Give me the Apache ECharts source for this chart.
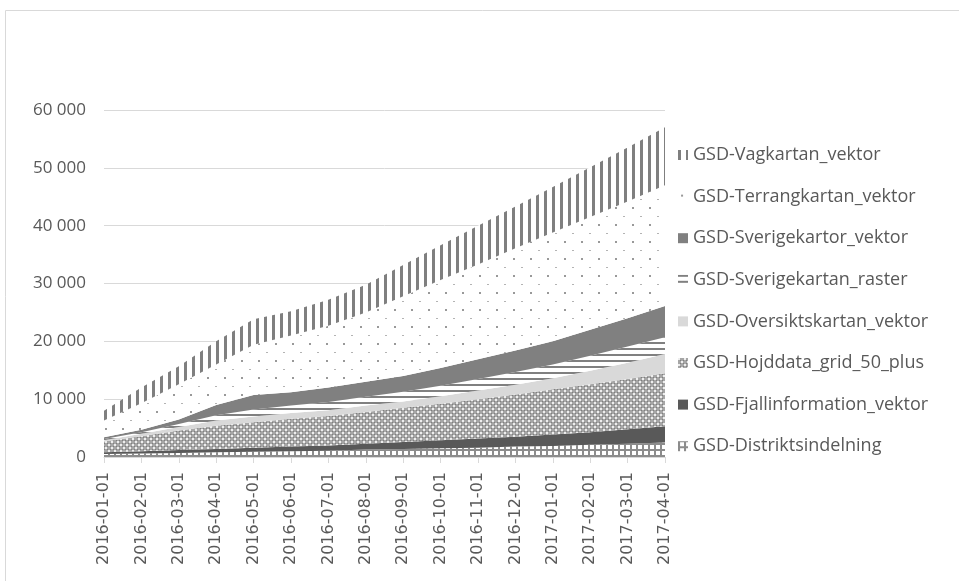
<!DOCTYPE html>
<html>
<head>
<meta charset="utf-8">
<script src="https://cdn.jsdelivr.net/npm/echarts@6/dist/echarts.min.js"></script>
<style>
	html, body { margin: 0; padding: 0; background: #fff; }
	#main { width: 959px; height: 581px; }
</style>
</head>
<body>
<div id="main"></div>
<script>
// 月份
const months = ['2016-01-01', '2016-02-01', '2016-03-01', '2016-04-01', '2016-05-01', '2016-06-01',
	'2016-07-01', '2016-08-01', '2016-09-01', '2016-10-01', '2016-11-01', '2016-12-01',
	'2017-01-01', '2017-02-01', '2017-03-01', '2017-04-01'];

// 各系列数据 (由下至上堆叠)
const distrikt = [500, 600, 700, 800, 900, 1000, 1100, 1300, 1400, 1500, 1600, 1800, 1900, 2100, 2300, 2500];
const fjall = [300, 400, 500, 600, 700, 800, 900, 1000, 1200, 1400, 1600, 1700, 2000, 2200, 2500, 2800];
const hojddata = [1900, 2600, 3400, 4000, 4400, 4800, 5100, 5500, 5900, 6300, 6800, 7300, 7800, 8300, 8700, 9200];
const oversikt = [200, 400, 600, 900, 1000, 1000, 1000, 1100, 1100, 1300, 1500, 1700, 1900, 2300, 2800, 3300];
const raster = [200, 300, 500, 900, 1200, 1300, 1400, 1500, 1700, 1800, 2000, 2200, 2400, 2600, 2800, 2900];
const sverigekartor = [300, 400, 800, 1800, 2500, 2300, 2500, 2600, 2700, 3100, 3400, 3700, 4000, 4500, 4900, 5400];
const terrang = [2900, 4600, 6100, 7000, 8700, 9800, 10700, 12000, 13800, 15200, 16400, 17700, 18800, 19500, 20200, 20900];
const vagkartan = [1700, 2700, 3100, 4000, 4400, 4200, 4500, 4800, 5400, 6000, 6700, 7200, 7900, 8600, 9300, 10000];

const yTicks = [0, 10000, 20000, 30000, 40000, 50000, 60000];

// 生成填充图案
function makePattern(w, h, draw) {
	const c = document.createElement('canvas');
	c.width = w;
	c.height = h;
	const ctx = c.getContext('2d');
	draw(ctx);
	return { image: c, repeat: 'repeat' };
}

const patterns = {
	distrikt: makePattern(6, 6, ctx => {
		ctx.fillStyle = '#8c8c8c';
		ctx.fillRect(0, 0, 6, 6);
		ctx.fillStyle = '#ffffff';
		ctx.fillRect(2, 1, 4, 4);
	}),
	fjall: '#595959',
	hojddata: makePattern(6, 6, ctx => {
		ctx.fillStyle = '#a6a6a6';
		ctx.fillRect(0, 0, 6, 6);
		ctx.fillStyle = '#eeeeee';
		ctx.fillRect(0, 0, 2, 2);
		ctx.fillRect(3, 3, 2, 2);
		ctx.fillStyle = '#7f7f7f';
		ctx.fillRect(2, 2, 1, 1);
		ctx.fillRect(5, 5, 1, 1);
		ctx.fillRect(5, 2, 1, 1);
		ctx.fillRect(2, 5, 1, 1);
	}),
	oversikt: '#d9d9d9',
	raster: makePattern(8, 6, ctx => {
		ctx.fillStyle = '#ffffff';
		ctx.fillRect(0, 0, 8, 6);
		ctx.fillStyle = '#808080';
		ctx.fillRect(0, 0, 8, 2);
	}),
	sverigekartor: '#808080',
	terrang: makePattern(17, 17, ctx => {
		ctx.fillStyle = '#ffffff';
		ctx.fillRect(0, 0, 17, 17);
		ctx.fillStyle = '#999999';
		ctx.fillRect(3, 3, 2, 2);
		ctx.fillStyle = '#b3b3b3';
		ctx.fillRect(11, 12, 2, 1);
	}),
	vagkartan: makePattern(8, 4, ctx => {
		ctx.fillStyle = '#ffffff';
		ctx.fillRect(0, 0, 8, 4);
		ctx.fillStyle = '#7f7f7f';
		ctx.fillRect(0, 0, 3, 4);
	})
};

const seriesDefs = [
	['GSD-Distriktsindelning', distrikt, patterns.distrikt],
	['GSD-Fjallinformation_vektor', fjall, patterns.fjall],
	['GSD-Hojddata_grid_50_plus', hojddata, patterns.hojddata],
	['GSD-Oversiktskartan_vektor', oversikt, patterns.oversikt],
	['GSD-Sverigekartan_raster', raster, patterns.raster],
	['GSD-Sverigekartor_vektor', sverigekartor, patterns.sverigekartor],
	['GSD-Terrangkartan_vektor', terrang, patterns.terrang],
	['GSD-Vagkartan_vektor', vagkartan, patterns.vagkartan]
];

const chart = echarts.init(document.getElementById('main'));

chart.setOption({
	animation: false,
	graphic: [{
		type: 'rect',
		silent: true,
		shape: { x: 5.5, y: 10.5, width: 1200, height: 1000 },
		style: { fill: 'none', stroke: '#d9d9d9', lineWidth: 1 }
	}],
	grid: { left: 104, right: 294, top: 110, bottom: 124 },
	legend: {
		orient: 'vertical',
		left: 673,
		top: 140,
		itemWidth: 10,
		itemHeight: 10,
		itemGap: 21.6,
		selectedMode: false,
		textStyle: { fontFamily: 'Open Sans', fontSize: 18, color: '#595959', lineHeight: 20 },
		data: seriesDefs.slice().reverse().map(d => ({
			name: d[0],
			icon: 'rect',
			itemStyle: { color: d[2] }
		}))
	},
	xAxis: {
		type: 'category',
		boundaryGap: false,
		data: months,
		axisLine: { lineStyle: { color: '#d9d9d9' } },
		axisTick: { show: true, length: 6, lineStyle: { color: '#d9d9d9' } },
		axisLabel: {
			rotate: 90,
			margin: 15,
			interval: 0,
			fontFamily: 'DejaVu Sans',
			fontSize: 16,
			color: '#595959'
		}
	},
	yAxis: {
		type: 'value',
		min: yTicks[0],
		max: yTicks[yTicks.length - 1],
		interval: 10000,
		axisLine: { show: false },
		axisTick: { show: false },
		splitLine: { lineStyle: { color: '#d9d9d9', width: 1 } },
		axisLabel: {
			margin: 18,
			fontFamily: 'Open Sans',
			fontSize: 17,
			color: '#595959',
			formatter: v => String(v).replace(/\B(?=(\d{3})+(?!\d))/g, ' ')
		}
	},
	series: seriesDefs.map(d => ({
		name: d[0],
		type: 'line',
		stack: 'total',
		data: d[1],
		symbol: 'none',
		color: d[2],
		lineStyle: { width: 0 },
		areaStyle: { color: d[2], opacity: 1 }
	}))
});
</script>
</body>
</html>
